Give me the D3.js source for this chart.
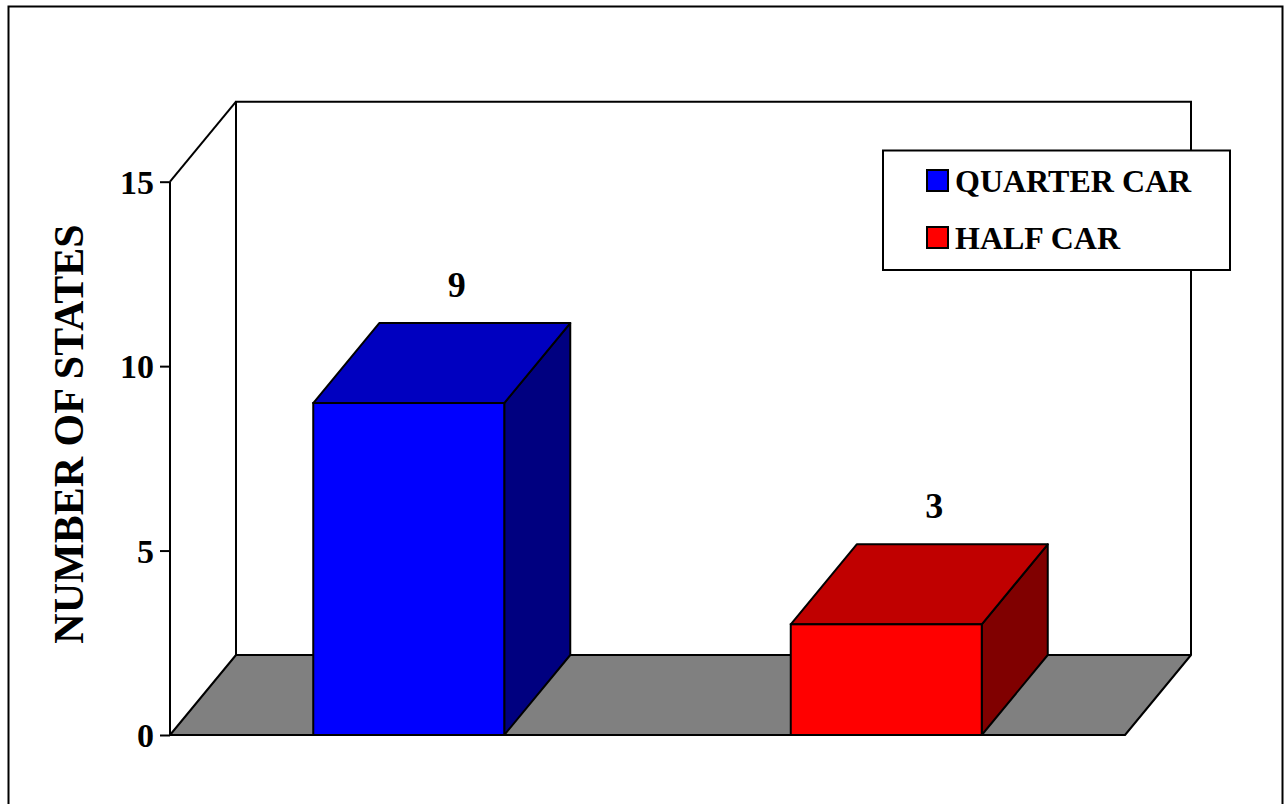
<!DOCTYPE html>
<html>
<head>
<meta charset="utf-8">
<script src="https://cdn.jsdelivr.net/npm/d3@7"></script>
<style>
  html, body { margin: 0; padding: 0; background: #fff; }
  svg { display: block; }
  text { font-family: "Liberation Serif", "Times New Roman", serif; font-weight: bold; fill: #000; }
</style>
</head>
<body>
<svg id="chart" width="1284" height="804"></svg>
<script>
// ---- data ----
const categories = ["QUARTER CAR", "HALF CAR"];
const values = [9, 3];
const tickValues = [0, 5, 10, 15];
const yTitle = "NUMBER OF STATES";
const frontColors = ["#0000FF", "#FF0000"];
const topColors = ["#0000C0", "#C00000"];
const sideColors = ["#000080", "#800000"];

// ---- layout ----
const svg = d3.select("#chart");
const x0 = 170, x1 = 1125;           // front floor edge
const yBottom = 735, yTop = 181.7;   // 0 and 15 on front axis
const dx = 66, dy = -80;             // depth offset

const x = d3.scaleBand().domain(categories).range([x0, x1]).padding(0);
const y = d3.scaleLinear().domain([0, 15]).range([yBottom, yTop]);
const barW = x.bandwidth() * 0.4;

// outer frame
svg.append("rect").attr("x", 8.5).attr("y", 6.5).attr("width", 1274).attr("height", 820)
  .attr("fill", "none").attr("stroke", "#000").attr("stroke-width", 2);

// floor
const floorPts = [[x0, y(0)], [x1, y(0)], [x1 + dx, y(0) + dy], [x0 + dx, y(0) + dy]];
svg.append("polygon").attr("points", floorPts.map(p => p.join(",")).join(" "))
  .attr("fill", "#808080").attr("stroke", "#000").attr("stroke-width", 2).attr("stroke-linejoin", "round");

// back wall outline
svg.append("path")
  .attr("d", `M${x0 + dx},${y(0) + dy} V${y(15) + dy} H${x1 + dx} V${y(0) + dy}`)
  .attr("fill", "none").attr("stroke", "#000").attr("stroke-width", 2);

// left wall: diagonal top edge
svg.append("line").attr("x1", x0).attr("y1", y(15)).attr("x2", x0 + dx).attr("y2", y(15) + dy)
  .attr("stroke", "#000").attr("stroke-width", 2);

// front y axis
const yAxis = d3.axisLeft(y).tickValues(tickValues).tickSize(10).tickPadding(6);
const gAxis = svg.append("g").attr("transform", `translate(${x0},0)`).call(yAxis);
gAxis.select(".domain").attr("stroke", "#000").attr("stroke-width", 2).attr("d", `M0,${y(15)}V${y(0)}`);
gAxis.selectAll(".tick line").attr("stroke", "#000").attr("stroke-width", 2);
gAxis.selectAll(".tick text")
  .style("font-family", '"Liberation Serif", "Times New Roman", serif')
  .style("font-weight", "bold").style("font-size", "34px").attr("fill", "#000").attr("dy", "0.34em");

// y title
svg.append("text")
  .attr("transform", `translate(83,434) rotate(-90)`)
  .attr("text-anchor", "middle")
  .style("font-size", "42px")
  .text(yTitle);

// bars
const bars = svg.selectAll("g.bar").data(categories).enter().append("g").attr("class", "bar");
bars.each(function (c, i) {
  const g = d3.select(this);
  const cx = x(c) + x.bandwidth() / 2;
  const L = cx - barW / 2, R = cx + barW / 2;
  const T = y(values[i]), B = y(0);
  const sw = 2;
  // side face
  g.append("polygon").attr("points", [[R, B], [R + dx, B + dy], [R + dx, T + dy], [R, T]].map(p => p.join(",")).join(" "))
    .attr("fill", sideColors[i]).attr("stroke", "#000").attr("stroke-width", sw).attr("stroke-linejoin", "round");
  // top face
  g.append("polygon").attr("points", [[L, T], [R, T], [R + dx, T + dy], [L + dx, T + dy]].map(p => p.join(",")).join(" "))
    .attr("fill", topColors[i]).attr("stroke", "#000").attr("stroke-width", sw).attr("stroke-linejoin", "round");
  // front face
  g.append("rect").attr("x", L).attr("y", T).attr("width", barW).attr("height", B - T)
    .attr("fill", frontColors[i]).attr("stroke", "#000").attr("stroke-width", sw);
  // value label
  g.append("text").attr("x", cx + 48).attr("y", T + dy - 26)
    .attr("text-anchor", "middle").style("font-size", "36px").text(values[i]);
});

// legend
const lg = svg.append("g");
lg.append("rect").attr("x", 883).attr("y", 150.5).attr("width", 347).attr("height", 119.5)
  .attr("fill", "#fff").attr("stroke", "#000").attr("stroke-width", 2);
categories.forEach((c, i) => {
  const yy = 170 + i * 57;
  lg.append("rect").attr("x", 927).attr("y", yy).attr("width", 21).attr("height", 21)
    .attr("fill", frontColors[i]).attr("stroke", "#000").attr("stroke-width", 2);
  lg.append("text").attr("x", 955).attr("y", yy + 21.5).style("font-size", "32px").text(c);
});
</script>
</body>
</html>
